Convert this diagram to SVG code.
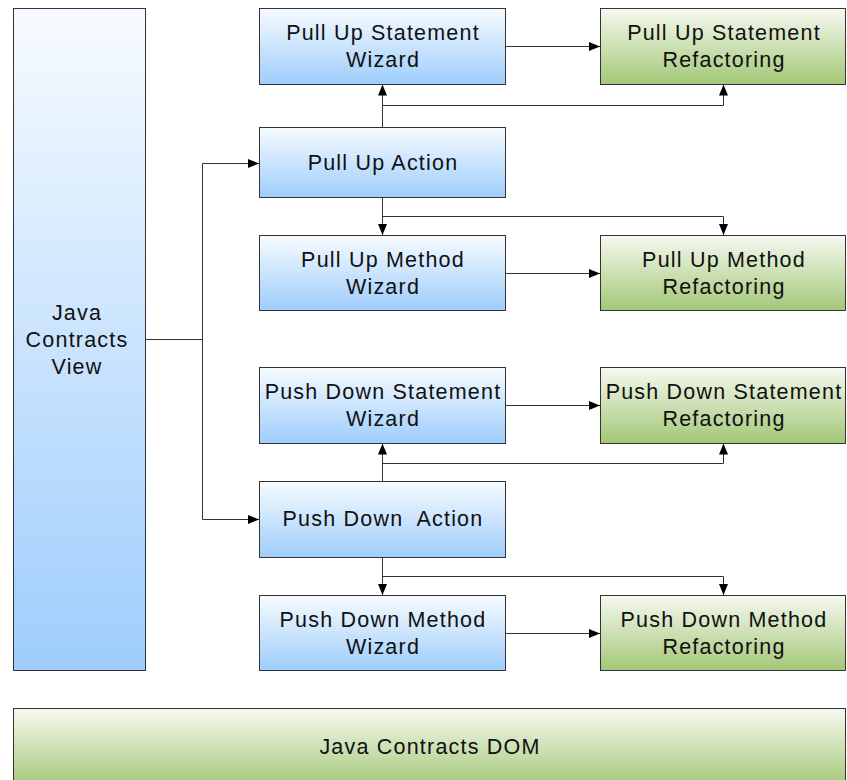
<svg xmlns="http://www.w3.org/2000/svg" width="847" height="780" viewBox="0 0 847 780">
<style>
.b{fill:url(#gb);stroke:#333;stroke-width:1}
.g{fill:url(#gg);stroke:#333;stroke-width:1}
text{font-family:"Liberation Sans",Arial,sans-serif;font-size:21.5px;letter-spacing:1.2px;fill:#111;text-anchor:middle}
.c{fill:none;stroke:#333;stroke-width:1;marker-end:url(#ah)}
.n{fill:none;stroke:#333;stroke-width:1}
</style>
<defs>
<linearGradient id="gb" x1="0" y1="0" x2="0" y2="1"><stop offset="0" stop-color="#f7fbff"/><stop offset="1" stop-color="#9ecdfc"/></linearGradient>
<linearGradient id="gg" x1="0" y1="0" x2="0" y2="1"><stop offset="0" stop-color="#f6f9f0"/><stop offset="1" stop-color="#a3c777"/></linearGradient>
<marker id="ah" markerWidth="12" markerHeight="10" refX="11" refY="5" orient="auto" markerUnits="userSpaceOnUse"><path d="M0,0.5 L11,5 L0,9.5 Z" fill="#000"/></marker>
</defs>
<g id="view"><rect class="b" x="13.5" y="8.5" width="132" height="662"/><text x="77" y="320">Java</text><text x="77" y="347">Contracts</text><text x="77" y="374">View</text></g>
<g id="pusw"><rect class="b" x="259.5" y="8.5" width="246" height="76"/><text x="383" y="40">Pull Up Statement</text><text x="383" y="67">Wizard</text></g>
<g id="pusr"><rect class="g" x="600.5" y="8.5" width="245" height="76"/><text x="724" y="40">Pull Up Statement</text><text x="724" y="67">Refactoring</text></g>
<g id="pua"><rect class="b" x="259.5" y="127.5" width="246" height="70"/><text x="383" y="170">Pull Up Action</text></g>
<g id="pumw"><rect class="b" x="259.5" y="235.5" width="246" height="75"/><text x="383" y="267">Pull Up Method</text><text x="383" y="294">Wizard</text></g>
<g id="pumr"><rect class="g" x="600.5" y="235.5" width="245" height="75"/><text x="724" y="267">Pull Up Method</text><text x="724" y="294">Refactoring</text></g>
<g id="pdsw"><rect class="b" x="259.5" y="367.5" width="246" height="76"/><text x="383" y="399">Push Down Statement</text><text x="383" y="426">Wizard</text></g>
<g id="pdsr"><rect class="g" x="600.5" y="367.5" width="245" height="76"/><text x="724" y="399">Push Down Statement</text><text x="724" y="426">Refactoring</text></g>
<g id="pda"><rect class="b" x="259.5" y="481.5" width="246" height="76"/><text x="383" y="526" xml:space="preserve">Push Down  Action</text></g>
<g id="pdmw"><rect class="b" x="259.5" y="595.5" width="246" height="75"/><text x="383" y="627">Push Down Method</text><text x="383" y="654">Wizard</text></g>
<g id="pdmr"><rect class="g" x="600.5" y="595.5" width="245" height="75"/><text x="724" y="627">Push Down Method</text><text x="724" y="654">Refactoring</text></g>
<g id="dom"><rect class="g" x="13.5" y="708.5" width="832" height="80"/><text x="430" y="754">Java Contracts DOM</text></g>
<g id="connectors">
<path class="n" d="M145.5,339.5 H202.5 M202.5,163.5 V519.5"/>
<path class="c" d="M202.5,163.5 H259"/>
<path class="c" d="M202.5,519.5 H259"/>
<path class="c" d="M505.5,46.5 H600"/>
<path class="c" d="M505.5,273.5 H600"/>
<path class="c" d="M505.5,405.5 H600"/>
<path class="c" d="M505.5,633.5 H600"/>
<path class="c" d="M382.5,127 V84.5"/>
<path class="c" d="M382.5,105.5 H723.5 V84.5"/>
<path class="c" d="M382.5,197.5 V235"/>
<path class="c" d="M382.5,216.5 H723.5 V235"/>
<path class="c" d="M382.5,481 V443.5"/>
<path class="c" d="M382.5,463.5 H723.5 V443.5"/>
<path class="c" d="M382.5,557.5 V595"/>
<path class="c" d="M382.5,576.5 H723.5 V595"/>
</g>
</svg>
